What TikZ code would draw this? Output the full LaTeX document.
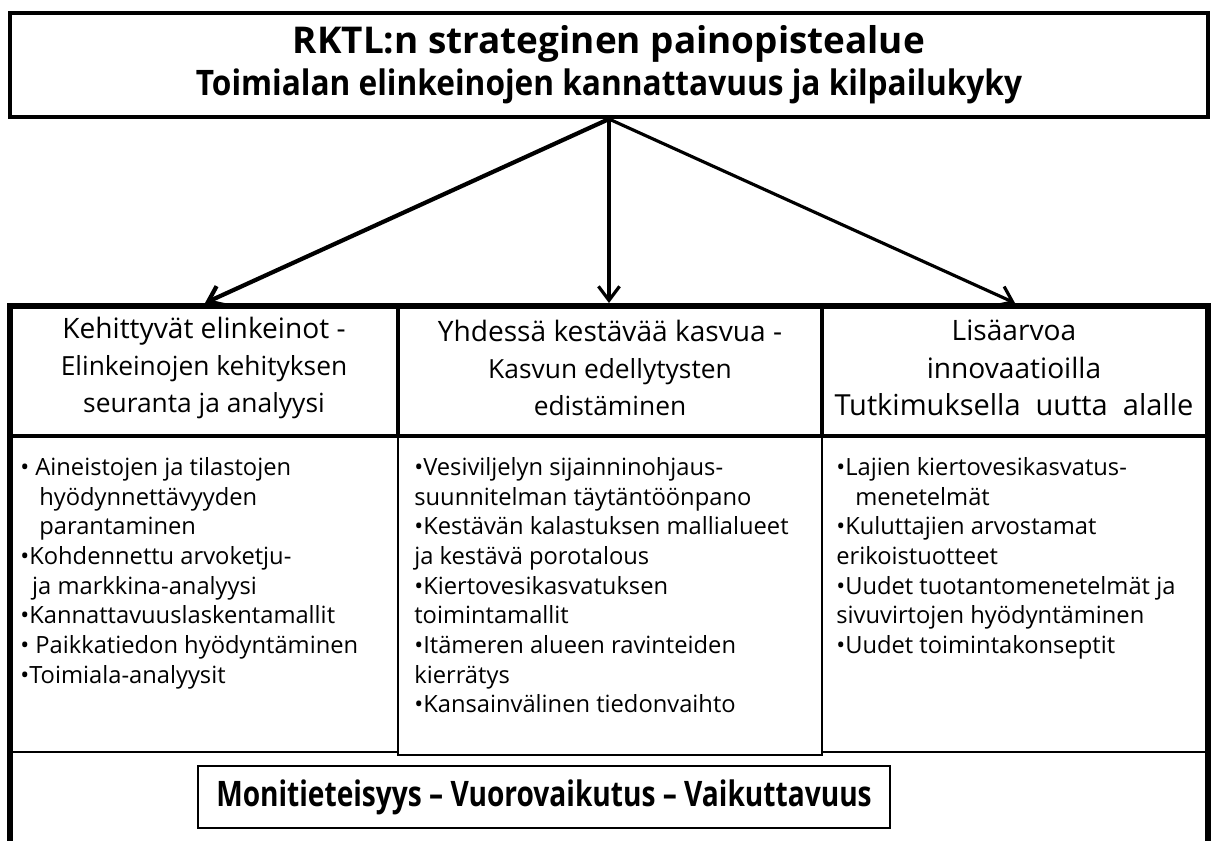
\documentclass[tikz,border=0pt]{standalone}
\usepackage{fontspec}
\setmainfont{Open Sans}
\newfontfamily\narrowfont[FakeStretch=0.9]{Open Sans}
\newfontfamily\mottofont[FakeStretch=0.8]{Open Sans}
\usetikzlibrary{arrows.meta}

\tikzset{
  frameline/.style={line width=3.2pt},
  rowline/.style={line width=2.6pt},
  cellline/.style={line width=1.6pt},
  pointer/.style={-{Straight Barb[length=8pt,width=12pt]}, line width=1.8pt},
  headtext/.style={align=center, inner sep=0pt, font=\fontsize{15}{21.3}\selectfont},
  itemtext/.style={align=left, anchor=north west, inner sep=0pt, font=\fontsize{13.5}{16.9}\selectfont},
}
\newcommand{\headbig}{\fontsize{16}{21.3}\selectfont}

\begin{document}
\begin{tikzpicture}[x=0.02cm, y=-0.02cm]
  \useasboundingbox (0,0) rectangle (1211,840);

  % otsikko
  \node[draw, line width=2.3pt, minimum width=23.96cm, minimum height=2.08cm,
        align=center, font=\bfseries\fontsize{20}{24}\selectfont]
        (strategy) at (609,65)
        {{\fontsize{21}{24}\selectfont RKTL:n strateginen painopistealue}\\{\narrowfont Toimialan elinkeinojen kannattavuus ja kilpailukyky}};

  % kehys
  \draw[frameline] (10,845) -- (10,306) -- (1208,306) -- (1208,845);
  \draw[rowline] (10,436) -- (1208,436);
  \draw[rowline] (398,306) -- (398,436);
  \draw[rowline] (822,306) -- (822,436);
  \draw[cellline] (398,436) -- (398,755) -- (822,755) -- (822,436);
  \draw[cellline] (10,752) -- (398,752);
  \draw[cellline] (822,752) -- (1208,752);

  \coordinate (kehitysTop) at (205,303);
  \coordinate (kasvuTop) at (609,303);
  \coordinate (innovaatioTop) at (1015,303);

  \draw[pointer, line width=2.4pt] (strategy.south) -- (kehitysTop);
  \draw[pointer] (strategy.south) -- (kasvuTop);
  \draw[pointer] (strategy.south) -- (innovaatioTop);

  % sarakkeiden otsikot
  \node[headtext] (kehitys) at (204,368)
    {{\headbig Kehittyvät elinkeinot -}\\Elinkeinojen kehityksen\\seuranta ja analyysi};
  \node[headtext] (kasvu) at (610,368)
    {{\headbig Yhdessä kestävää kasvua -}\\Kasvun edellytysten\\edistäminen};
  \node[headtext] (innovaatio) at (1014,368)
    {{\headbig Lisäarvoa}\\{\headbig innovaatioilla}\\{\fontsize{16.5}{21.3}\selectfont Tutkimuksella\ \ uutta\ \ alalle}};

  % luettelot
  \node[itemtext] (kehitysList) at (20,457)
    {• Aineistojen ja tilastojen\\
     \hspace*{0.8em}hyödynnettävyyden\\
     \hspace*{0.8em}parantaminen\\
     •Kohdennettu arvoketju-\\
     \hspace*{0.5em}ja markkina-analyysi\\
     •Kannattavuuslaskentamallit\\
     • Paikkatiedon hyödyntäminen\\
     •Toimiala-analyysit};
  \node[itemtext] (kasvuList) at (414,457)
    {•Vesiviljelyn sijainninohjaus-\\
     suunnitelman täytäntöönpano\\
     •Kestävän kalastuksen mallialueet\\
     ja kestävä porotalous\\
     •Kiertovesikasvatuksen\\
     toimintamallit\\
     •Itämeren alueen ravinteiden\\
     kierrätys\\
     •Kansainvälinen tiedonvaihto};
  \node[itemtext] (innovaatioList) at (836,457)
    {•Lajien kiertovesikasvatus-\\
     \hspace*{0.8em}menetelmät\\
     •Kuluttajien arvostamat\\
     erikoistuotteet\\
     •Uudet tuotantomenetelmät ja\\
     sivuvirtojen hyödyntäminen\\
     •Uudet toimintakonseptit};

  % alarivi
  \node[draw, line width=0.8pt, minimum width=13.84cm, minimum height=1.24cm,
        font=\mottofont\bfseries\fontsize{20}{24}\selectfont]
        (motto) at (544,797) {Monitieteisyys – Vuorovaikutus – Vaikuttavuus};
\end{tikzpicture}
\end{document}
